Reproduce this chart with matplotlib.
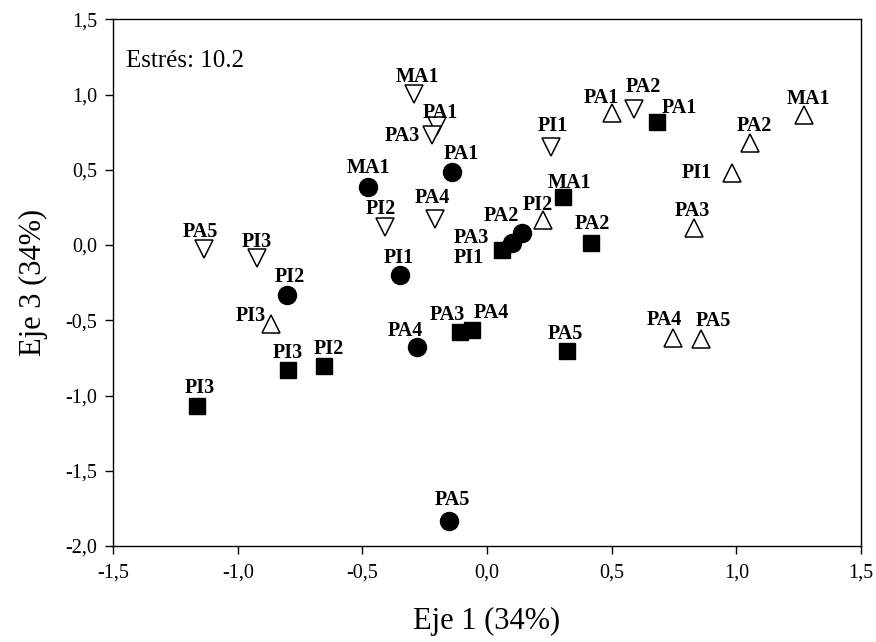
import matplotlib
matplotlib.use('Agg')
import matplotlib.pyplot as plt
from matplotlib.ticker import FuncFormatter, MultipleLocator

plt.rcParams['font.family'] = ['Liberation Serif', 'DejaVu Serif']

# Circulos negros
circ_lab = ['MA1', 'PA1', 'PI1', 'PI2', 'PA4', 'PA5', 'PA2', 'PA3']
circ_x = [-0.478, -0.139, -0.349, -0.801, -0.281, -0.151, 0.139, 0.099]
circ_y = [0.387, 0.487, -0.199, -0.332, -0.675, -1.833, 0.078, 0.011]

# Cuadrados negros
sq_lab = ['MA1', 'PA2', 'PA1', 'PA3', 'PA4', 'PA5', 'PI2', 'PI3', 'PI3', 'PI1']
sq_x = [0.304, 0.416, 0.681, -0.108, -0.061, 0.320, -0.654, -0.797, -1.164, 0.059]
sq_y = [0.320, 0.011, 0.819, -0.576, -0.565, -0.704, -0.801, -0.830, -1.069, -0.033]

# Triangulos hacia abajo
dn_lab = ['MA1', 'PA1', 'PA3', 'PI2', 'PA4', 'PA5', 'PI3', 'PI1', 'PA2']
dn_x = [-0.293, -0.202, -0.222, -0.409, -0.209, -1.135, -0.924, 0.257, 0.591]
dn_y = [1.003, 0.790, 0.730, 0.122, 0.171, -0.029, -0.088, 0.649, 0.903]

# Triangulos hacia arriba
up_lab = ['PI3', 'PI2', 'PA1', 'PA2', 'MA1', 'PI1', 'PA3', 'PA4', 'PA5']
up_x = [-0.865, 0.223, 0.500, 1.055, 1.272, 0.981, 0.828, 0.745, 0.857]
up_y = [-0.525, 0.166, 0.874, 0.675, 0.863, 0.476, 0.111, -0.620, -0.626]

# desplazamiento de etiquetas (pixeles)
circ_off = [(1, 14), (9, 13), (-1, 12), (3, 13), (-12, 11), (3, 16), (-20, 12), (-40, 0)]
sq_off = [(7, 9), (2, 14), (22, 9), (-13, 12), (19, 12), (-1, 12), (5, 12), (0, 12), (3, 13), (-33, -13)]
dn_off = [(3, 12), (4, 8), (-29, -6), (-4, 13), (-3, 16), (-4, 12), (0, 11), (2, 16), (9, 17)]
up_off = [(-21, 3), (-5, 10), (-10, 10), (4, 12), (4, 11), (-35, -5), (-1, 12), (-9, 13), (13, 13)]

fig = plt.figure(figsize=(8.76, 6.42), dpi=100)
ax = fig.add_axes([0.129, 0.1495, 0.854, 0.8205])

ax.plot(circ_x, circ_y, 'o', ms=13, color='black', ls='none')
ax.plot(sq_x, sq_y, 's', ms=11.5, color='black', ls='none')
ax.plot(dn_x, dn_y, 'v', ms=12.5, mfc='white', mec='black', mew=1.1, ls='none')
ax.plot(up_x, up_y, '^', ms=12.5, mfc='white', mec='black', mew=1.1, ls='none')


def etiquetas(labs, xs, ys, offs):
    for t, x, y, o in zip(labs, xs, ys, offs):
        ax.annotate(t, (x, y), xytext=o, textcoords='offset pixels',
                    ha='center', va='baseline', fontsize=14.5, fontweight='bold')


etiquetas(circ_lab, circ_x, circ_y, circ_off)
etiquetas(sq_lab, sq_x, sq_y, sq_off)
etiquetas(dn_lab, dn_x, dn_y, dn_off)
etiquetas(up_lab, up_x, up_y, up_off)

ax.text(0.0174, 0.9095, 'Estrés: 10.2', transform=ax.transAxes,
        fontsize=18, va='baseline', ha='left')

ax.set_xlim(-1.5, 1.5)
ax.set_ylim(-2.0, 1.5)
ax.xaxis.set_major_locator(MultipleLocator(0.5))
ax.yaxis.set_major_locator(MultipleLocator(0.5))
coma = FuncFormatter(lambda v, p: f'{v:.1f}'.replace('.', ','))
ax.xaxis.set_major_formatter(coma)
ax.yaxis.set_major_formatter(coma)
ax.tick_params(direction='out', length=5.5, width=1, labelsize=14.5,
               top=False, right=False)
ax.tick_params(axis='x', pad=7)
ax.tick_params(axis='y', pad=6)
for s in ax.spines.values():
    s.set_linewidth(1)

ax.set_xlabel('Eje 1 (34%)', fontsize=22, labelpad=18)
ax.set_ylabel('Eje 3 (34%)', fontsize=22, labelpad=12)

fig.savefig('out.png', dpi=100)
